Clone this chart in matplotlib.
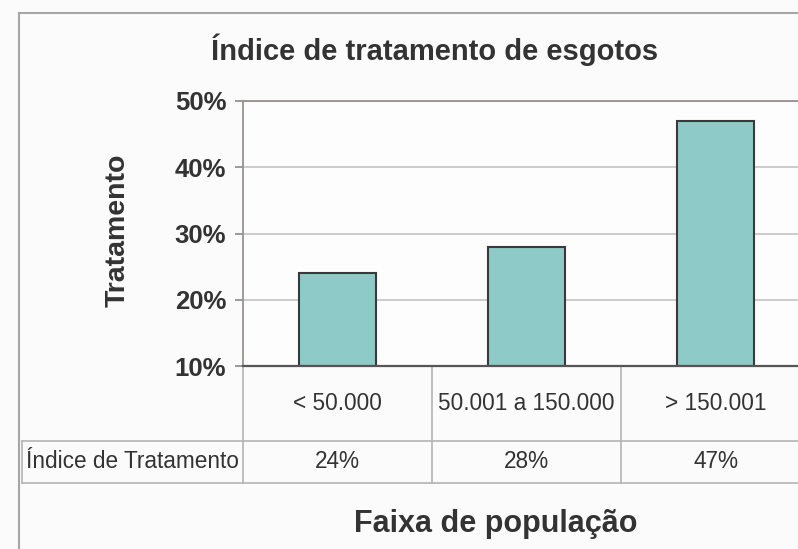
import matplotlib.pyplot as plt
import matplotlib.transforms as mtransforms
from matplotlib.lines import Line2D
import numpy as np

# Sewage treatment index by population bracket
faixas = ['< 50.000', '50.001 a 150.000', '> 150.001']
indice = [24, 28, 47]
yticks = [10, 20, 30, 40, 50]
serie_nome = 'Índice de Tratamento'

plt.rcParams['font.family'] = ['Liberation Sans', 'DejaVu Sans']
texto = '#333333'
borda_tab = '#b4b4b4'

W, H = 798, 549
fig = plt.figure(figsize=(W / 100, H / 100), dpi=100, facecolor='#fbfbfb')

# plot area in pixel terms, runs off the right edge like the original sheet
x0, x1, ytop, ybot = 243, 810, 101, 366
ax = fig.add_axes([x0 / W, 1 - ybot / H, (x1 - x0) / W, (ybot - ytop) / H])
ax.set_facecolor('#fdfdfd')

x = np.arange(len(faixas))
ax.bar(x, [v - 10 for v in indice], bottom=10, width=0.41, color='#8ecbc8',
       edgecolor='#3a3a3a', linewidth=1.5, zorder=3)

ax.set_xlim(-0.5, len(faixas) - 0.5)
ax.set_ylim(10, 50)
ax.set_yticks(yticks)
ax.set_yticklabels([f'{t}%' for t in yticks], fontsize=18.5, fontweight='bold', color=texto)
ax.set_xticks([])
ax.yaxis.grid(True, color='#c8c8c8', linewidth=1.3, zorder=0)
ax.tick_params(axis='y', length=6, width=1.2, color='#8a8a8a', pad=6)

for s in ['top', 'left']:
    ax.spines[s].set_color('#9a9090')
    ax.spines[s].set_linewidth(1.3)
ax.spines['right'].set_visible(False)
ax.spines['bottom'].set_color('#555555')
ax.spines['bottom'].set_linewidth(1.6)
ax.spines['bottom'].set_zorder(4)

# data table under the axis
row1 = -(441 - ybot) / (ybot - ytop)
row2 = -(483 - ybot) / (ybot - ytop)
xt = ax.get_xaxis_transform()
for xs in [-0.5, 0.5, 1.5]:
    ax.add_line(Line2D([xs, xs], [0, row2], transform=xt, color=borda_tab,
                       linewidth=1.2, clip_on=False))
mix = mtransforms.blended_transform_factory(fig.transFigure, ax.transAxes)
for yy in [row1, row2]:
    ax.add_line(Line2D([22 / W, 1], [yy, yy], transform=mix, color=borda_tab,
                       linewidth=1.2, clip_on=False))
ax.add_line(Line2D([22 / W, 22 / W], [row1, row2], transform=mix, color=borda_tab,
                   linewidth=1.2, clip_on=False))

for i, f in enumerate(faixas):
    ax.text(i, row1 / 2, f, transform=xt, ha='center', va='center',
            fontsize=16.3, color=texto)
    ax.text(i, (row1 + row2) / 2, f'{indice[i]}%', transform=xt, ha='center',
            va='center', fontsize=16.3, color=texto)
ax.text((22 + x0) / 2 / W, (row1 + row2) / 2, serie_nome, transform=mix,
        ha='center', va='center', fontsize=16.3, color=texto)

# outer chart frame
fx, fy = 19 / W, 1 - 13 / H
fig.add_artist(Line2D([fx, fx], [0, fy], transform=fig.transFigure, color='#a6a6a6', linewidth=1.5))
fig.add_artist(Line2D([fx, 1], [fy, fy], transform=fig.transFigure, color='#a6a6a6', linewidth=1.5))

fig.text(435 / W, 1 - 50 / H, 'Índice de tratamento de esgotos', ha='center', va='center',
         fontsize=21, fontweight='bold', color=texto)
fig.text(118 / W, 1 - 230 / H, 'Tratamento', rotation=90, ha='center', va='center',
         fontsize=20.5, fontweight='bold', color=texto)
fig.text(496 / W, 1 - 524 / H, 'Faixa de população', ha='center', va='center',
         fontsize=22, fontweight='bold', color=texto)

fig.savefig('out.png', dpi=100, facecolor=fig.get_facecolor())
